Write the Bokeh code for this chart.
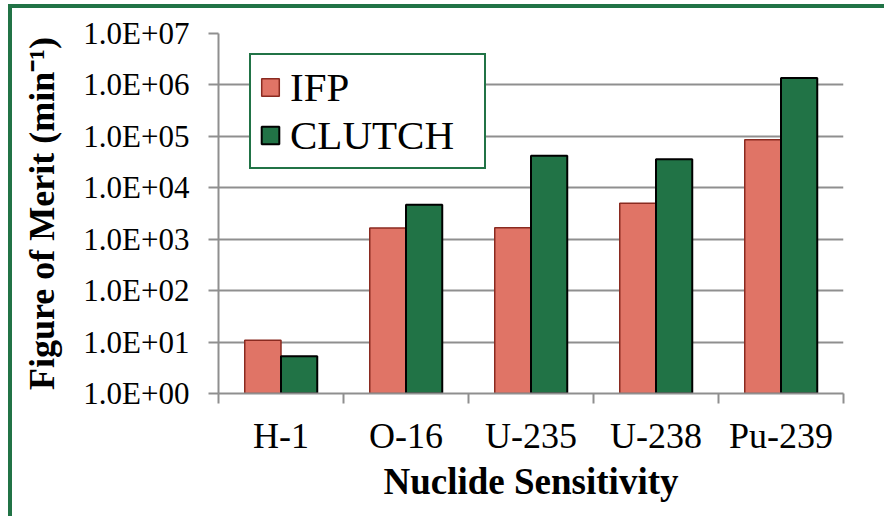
from bokeh.plotting import figure
from bokeh.models import Range1d, FixedTicker, Legend, LegendItem, InlineStyleSheet
from bokeh.embed import file_html
from bokeh.resources import INLINE

nuclides = ["H-1", "O-16", "U-235", "U-238", "Pu-239"]
ifp = [10.8, 1.65e3, 1.67e3, 5.0e3, 8.6e4]
clutch = [5.3, 4.7e3, 4.2e4, 3.6e4, 1.36e6]
y_ticks = [1e0, 1e1, 1e2, 1e3, 1e4, 1e5, 1e6, 1e7]
y_tick_labels = ["1.0E+00", "1.0E+01", "1.0E+02", "1.0E+03", "1.0E+04", "1.0E+05", "1.0E+06", "1.0E+07"]

GREEN = "#217346"
SALMON = "#E07466"
GRID = "#8F8F8F"
SERIF = "Liberation Serif"

bw = 0.29
n = len(nuclides)
centers = [i + 0.5 for i in range(n)]

p = figure(width=884, height=516, x_range=Range1d(0, n), y_range=Range1d(1, 1e7),
           y_axis_type="log", output_backend="svg", toolbar_location=None,
           min_border_left=218, min_border_right=41, min_border_top=33, min_border_bottom=123)
p.outline_line_color = None
p.background_fill_color = "white"
p.border_fill_color = "white"

r1 = p.vbar(x=[c - bw / 2 for c in centers], top=ifp, bottom=1, width=bw,
            fill_color=SALMON, line_color="#8A2A20", line_width=1.5)
r2 = p.vbar(x=[c + bw / 2 for c in centers], top=clutch, bottom=1, width=bw,
            fill_color=GREEN, line_color="black", line_width=2)

# grid
p.xgrid.visible = False
p.ygrid.ticker = FixedTicker(ticks=y_ticks)
p.ygrid.grid_line_color = GRID
p.ygrid.grid_line_width = 2

# y axis
ya = p.yaxis[0]
ya.ticker = FixedTicker(ticks=y_ticks)
ya.major_label_overrides = {t: l for t, l in zip(y_ticks, y_tick_labels)}
ya.axis_line_color = GRID
ya.axis_line_width = 2
ya.major_tick_line_color = GRID
ya.major_tick_line_width = 2
ya.major_tick_out = 10
ya.major_tick_in = 0
ya.minor_tick_line_color = None
ya.major_label_text_font = SERIF
ya.major_label_text_font_size = "31px"
ya.major_label_text_color = "black"
ya.major_label_standoff = 19
ya.axis_label = "Figure of Merit (min\u207b\u00b9)"
ya.axis_label_text_font = SERIF
ya.axis_label_text_font_style = "bold"
ya.axis_label_text_font_size = "36px"
ya.axis_label_text_color = "black"
ya.axis_label_standoff = 18

# x axis
xa = p.xaxis[0]
xa.ticker = FixedTicker(ticks=centers, minor_ticks=list(range(n + 1)))
xa.major_label_overrides = {c: l for c, l in zip(centers, nuclides)}
xa.axis_line_color = GRID
xa.axis_line_width = 2
xa.major_tick_line_color = None
xa.minor_tick_line_color = GRID
xa.minor_tick_line_width = 2
xa.minor_tick_out = 10
xa.minor_tick_in = 0
xa.major_label_text_font = SERIF
xa.major_label_text_font_size = "36px"
xa.major_label_text_color = "black"
xa.major_label_standoff = 12
xa.axis_label = "Nuclide Sensitivity"
xa.axis_label_text_font = SERIF
xa.axis_label_text_font_style = "bold"
xa.axis_label_text_font_size = "37px"
xa.axis_label_text_color = "black"
xa.axis_label_standoff = 2

legend = Legend(items=[LegendItem(label="IFP", renderers=[r1]),
                       LegendItem(label="CLUTCH", renderers=[r2])],
                location=(31, 224))
legend.border_line_color = GREEN
legend.border_line_width = 2
legend.border_line_alpha = 1
legend.background_fill_color = "white"
legend.background_fill_alpha = 1
legend.glyph_height = 22
legend.glyph_width = 22
legend.label_text_font = SERIF
legend.label_text_font_size = "41px"
legend.label_text_color = "black"
legend.label_standoff = 9
legend.label_width = 186
legend.padding = 8
legend.spacing = 0
legend.margin = 0
p.add_layout(legend)

# green frame around the whole chart (top and left edges visible)
p.stylesheets = [InlineStyleSheet(css="""
:host { position: relative; }
:host::after {
  content: "";
  position: absolute;
  left: 8px; top: 4px; width: 900px; height: 600px;
  border-left: 4px solid #217346; border-top: 4px solid #217346;
  pointer-events: none; z-index: 10;
}
""")]

open("out.html", "w").write(file_html(p, INLINE))
